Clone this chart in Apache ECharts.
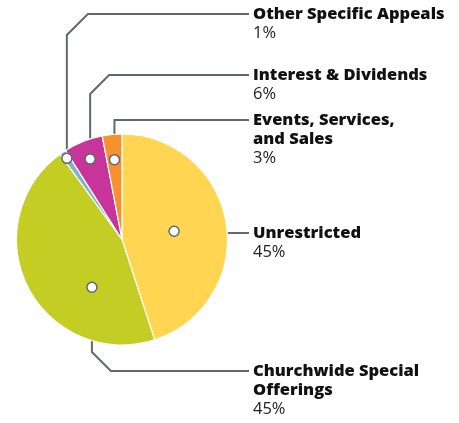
<!DOCTYPE html>
<html>
<head>
<meta charset="utf-8">
<script src="https://cdn.jsdelivr.net/npm/echarts@6/dist/echarts.min.js"></script>
<style>
  html, body { margin: 0; padding: 0; background: #fff; }
  #pie { width: 459px; height: 423px; }
</style>
</head>
<body>
<div id="pie"></div>
<script>
/****************************数据*********************************/
var sliceNames = ['Unrestricted', 'Churchwide Special\nOfferings', 'Other Specific Appeals', 'Interest & Dividends', 'Events, Services,\nand Sales'];
var sliceValues = [45, 45, 1, 6, 3];   // %
var sliceColors = ['#ffd552', '#c3cd24', '#7ab5cc', '#c7359b', '#f7902f'];

/****************************标注位置*********************************/
var anchorRadius = [0.5, 0.535, 0.93, 0.82, 0.76];   // 圆点到圆心的比例
var anchorAlong = [0.5, 0.31, 0.5, 0.5, 0.5];        // 圆点在扇区里的位置
var lineY = [233, 371, 14, 75, 120];                 // 引导线水平段
var bevel = [0, 19, 21, 19, 0];                      // 斜角长度
var lineEndX = 249;
var textX = 253;

var pieCenter = [122, 239.5];
var pieRadius = 105.5;
var total = sliceValues.reduce(function (a, b) { return a + b; }, 0);

// 圆点所在的角度(累计值)
var anchorData = sliceValues.map(function (v, i) {
    var start = 0;
    for (var k = 0; k < i; k++) start += sliceValues[k];
    return [anchorRadius[i], start + v * anchorAlong[i]];
});

var chart = echarts.init(document.getElementById('pie'), null, { renderer: 'canvas' });

function anchorPixel(i) {
    var a = anchorData[i][1] / total * Math.PI * 2;
    var r = anchorData[i][0] * pieRadius;
    return [pieCenter[0] + Math.sin(a) * r, pieCenter[1] - Math.cos(a) * r];
}

var labelFont = 'Open Sans';

var option = {
    animation: false,
    textStyle: { fontFamily: labelFont },
    polar: { center: pieCenter, radius: pieRadius },
    angleAxis: { type: 'value', min: 0, max: total, startAngle: 90, clockwise: true, show: false },
    radiusAxis: { type: 'value', min: 0, max: 1, show: false },
    series: [{
        name: 'Revenue',
        type: 'pie',
        center: pieCenter,
        radius: pieRadius,
        startAngle: 90,
        clockwise: true,
        avoidLabelOverlap: false,
        minShowLabelAngle: 0,
        data: sliceValues.map(function (v, i) {
            return { value: v, name: sliceNames[i], itemStyle: { color: sliceColors[i] } };
        }),
        itemStyle: { borderColor: '#fff', borderWidth: 1.2 },
        label: {
            show: true,
            position: 'outside',
            overflow: 'none',
            formatter: function (p) { return '{b|' + p.name + '}\n{v|' + p.value + '%}'; },
            rich: {
                b: { fontFamily: labelFont, fontWeight: 800, fontSize: 16.5, lineHeight: 19, color: '#111' },
                v: { fontFamily: labelFont, fontSize: 16.5, lineHeight: 19, color: '#222' }
            },
            align: 'left'
        },
        labelLine: {
            show: true,
            lineStyle: { color: '#5e6a72', width: 2 }
        },
        labelLayout: function (p) {
            var i = p.dataIndex;
            var a = anchorPixel(i);
            var y = lineY[i];
            var pts;
            if (Math.abs(a[1] - y) < 1) {
                pts = [a, [lineEndX, y]];
            } else if (bevel[i] === 0) {
                pts = [a, [a[0], y], [lineEndX, y]];
            } else {
                var s = a[1] > y ? 1 : -1;
                pts = [a, [a[0], y + s * bevel[i]], [a[0] + bevel[i], y], [lineEndX, y]];
            }
            return { x: textX, y: y - 9.5, align: 'left', verticalAlign: 'top', hideOverlap: false, labelLinePoints: pts };
        },
        emphasis: { disabled: true }
    }, {
        type: 'scatter',
        coordinateSystem: 'polar',
        symbol: 'circle',
        symbolSize: 10,
        z: 5,
        itemStyle: { color: '#fff', borderColor: '#5e6a72', borderWidth: 1.5, opacity: 1 },
        data: anchorData,
        silent: true
    }]
};
chart.setOption(option);
</script>
</body>
</html>
